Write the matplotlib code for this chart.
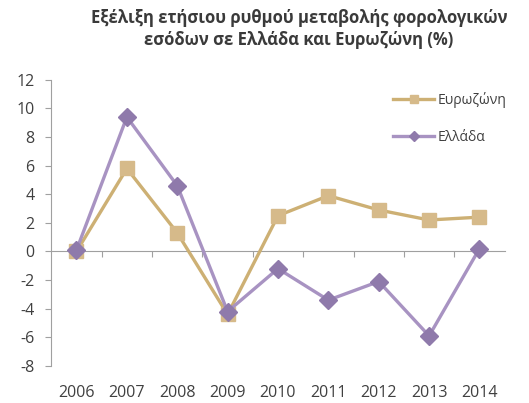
import numpy as np
import matplotlib.pyplot as plt

years = ['2006', '2007', '2008', '2009', '2010', '2011', '2012', '2013', '2014']
eurozone = [0.0, 5.8, 1.3, -4.4, 2.5, 3.9, 2.9, 2.2, 2.4]
greece = [0.1, 9.4, 4.6, -4.2, -1.2, -3.4, -2.1, -5.9, 0.2]

plt.rcParams['font.family'] = ['Open Sans', 'DejaVu Sans']
plt.rcParams['axes.unicode_minus'] = False

fig = plt.figure(figsize=(5.29, 4.03), dpi=100)
ax = fig.add_axes([0.097, 0.092, 0.857, 0.71])

x = np.arange(len(years))
ax.plot(x, eurozone, color='#CDB074', lw=2.4, marker='s', ms=10,
        mfc='#D6BA8A', mec='#D6BA8A', label='Ευρωζώνη', zorder=3)
ax.plot(x, greece, color='#A893C2', lw=2.4, marker='D', ms=9,
        mfc='#8F7AAB', mec='#8F7AAB', label='Ελλάδα', zorder=4)

ax.set_xlim(-0.5, len(years) - 0.5)
ax.set_ylim(-8, 12)
ax.set_yticks(np.arange(-8, 13, 2))
ax.set_xticks(x)
ax.set_xticklabels(years)
ax.tick_params(axis='x', length=0, pad=14, labelsize=11.5, colors='#404040')
ax.tick_params(axis='y', length=4, width=0.8, color='#A0A0A0', pad=8,
               labelsize=11.5, labelcolor='#404040')

for side in ['top', 'right', 'bottom']:
    ax.spines[side].set_visible(False)
ax.spines['left'].set_color('#A0A0A0')
ax.spines['left'].set_linewidth(0.8)

# zero line with category separator ticks
zero = ax.secondary_xaxis(8 / 20)
zero.set_xticks(np.arange(0.5, len(years) - 0.5, 1))
zero.tick_params(length=4, width=0.8, color='#A0A0A0', labelbottom=False)
zero.spines['bottom'].set_color('#A0A0A0')
zero.spines['bottom'].set_linewidth(0.8)

leg = ax.legend(loc='upper left', bbox_to_anchor=(0.727, 1.0), frameon=False,
                fontsize=10, handlelength=2.9, markerscale=0.55,
                labelspacing=1.55, handletextpad=0.25, labelcolor='#404040')

fig.text(0.565, 0.977, 'Εξέλιξη ετήσιου ρυθμού μεταβολής φορολογικών\nεσόδων σε Ελλάδα και Ευρωζώνη (%)',
         ha='center', va='top', fontsize=12, fontweight='bold', color='#3A3A3A',
         linespacing=1.3)

fig.savefig('out.png', dpi=100)
